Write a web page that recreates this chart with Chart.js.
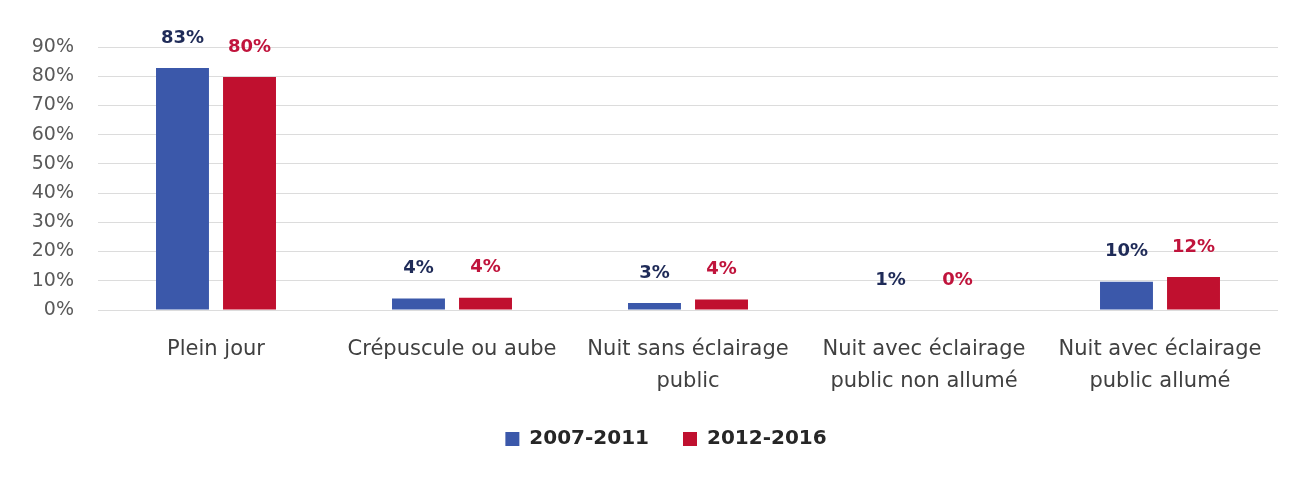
<!DOCTYPE html>
<html>
<head>
<meta charset="utf-8">
<script src="https://cdn.jsdelivr.net/npm/chart.js@4/dist/chart.umd.min.js"></script>
<style>
  html, body { margin: 0; padding: 0; background: #ffffff; }
  #wrap { width: 1312px; height: 478px; position: relative; }
</style>
</head>
<body>
<div id="wrap"><canvas id="c"></canvas></div>
<script>
// Categories (x-axis labels, multi-line)
const categories = [
  ["Plein jour"],
  ["Crépuscule ou aube"],
  ["Nuit sans éclairage", "public"],
  ["Nuit avec éclairage", "public non allumé"],
  ["Nuit avec éclairage", "public allumé"]
];
const seriesNames = ["2007-2011", "2012-2016"];
// Bar heights as drawn in the picture (%)
const bars2007 = [82.8, 3.9, 2.4, 0, 9.7];
const bars2012 = [79.7, 4.2, 3.6, 0, 11.3];
// Printed value labels (%)
const labels2007 = [83, 4, 3, 1, 10];
const labels2012 = [80, 4, 4, 0, 12];
// Y tick values
const yTicks = [0, 10, 20, 30, 40, 50, 60, 70, 80, 90];

const barColors = ["#3b58aa", "#c0102f"];
const labelColors = ["#1f2b58", "#c0143c"];
const valueLabels = [labels2007, labels2012];

const valueLabelPlugin = {
  id: "valueLabels",
  afterDatasetsDraw(chart) {
    const ctx = chart.ctx;
    ctx.save();
    ctx.font = "bold 18px 'DejaVu Sans'";
    ctx.textAlign = "center";
    ctx.textBaseline = "middle";
    chart.data.datasets.forEach((ds, di) => {
      const meta = chart.getDatasetMeta(di);
      meta.data.forEach((bar, i) => {
        ctx.fillStyle = labelColors[di];
        ctx.fillText(valueLabels[di][i] + "%", bar.x, bar.y - 30);
      });
    });
    ctx.restore();
  }
};

const legendShift = {
  id: "legendShift",
  afterLayout(chart) {
    if (chart.legend) {
      chart.legend.left += 27;
      chart.legend.right += 27;
    }
  }
};

new Chart(document.getElementById("c"), {
  type: "bar",
  data: {
    labels: categories,
    datasets: [
      { label: seriesNames[0], data: bars2007, backgroundColor: barColors[0], borderWidth: 0 },
      { label: seriesNames[1], data: bars2012, backgroundColor: barColors[1], borderWidth: 0 }
    ]
  },
  options: {
    responsive: true,
    maintainAspectRatio: false,
    animation: false,
    datasets: { bar: { categoryPercentage: 0.568, barPercentage: 0.79 } },
    layout: { padding: { top: 47, right: 34, bottom: 19, left: 0 } },
    plugins: {
      tooltip: { enabled: false },
      legend: {
        position: "bottom",
        labels: {
          boxWidth: 14,
          boxHeight: 14,
          padding: 34,
          color: "#262626",
          font: { family: "'DejaVu Sans'", size: 20, weight: "bold" }
        }
      }
    },
    scales: {
      x: {
        grid: { display: false, drawTicks: false },
        border: { display: false },
        ticks: {
          color: "#404040",
          padding: 24,
          maxRotation: 0,
          autoSkip: false,
          font: { family: "'DejaVu Sans'", size: 21, lineHeight: 1.5 }
        },
        afterFit(scale) { scale.height = 85; }
      },
      y: {
        min: 0,
        max: 90,
        afterBuildTicks(scale) { scale.ticks = yTicks.map(v => ({ value: v })); },
        grid: { color: "#dcdcdc", lineWidth: 1, drawTicks: false },
        border: { display: false },
        ticks: {
          color: "#595959",
          padding: 24,
          font: { family: "'DejaVu Sans'", size: 19 },
          callback: v => v + "%"
        },
        afterFit(scale) { scale.width = 98; }
      }
    }
  },
  plugins: [valueLabelPlugin, legendShift]
});
</script>
</body>
</html>
